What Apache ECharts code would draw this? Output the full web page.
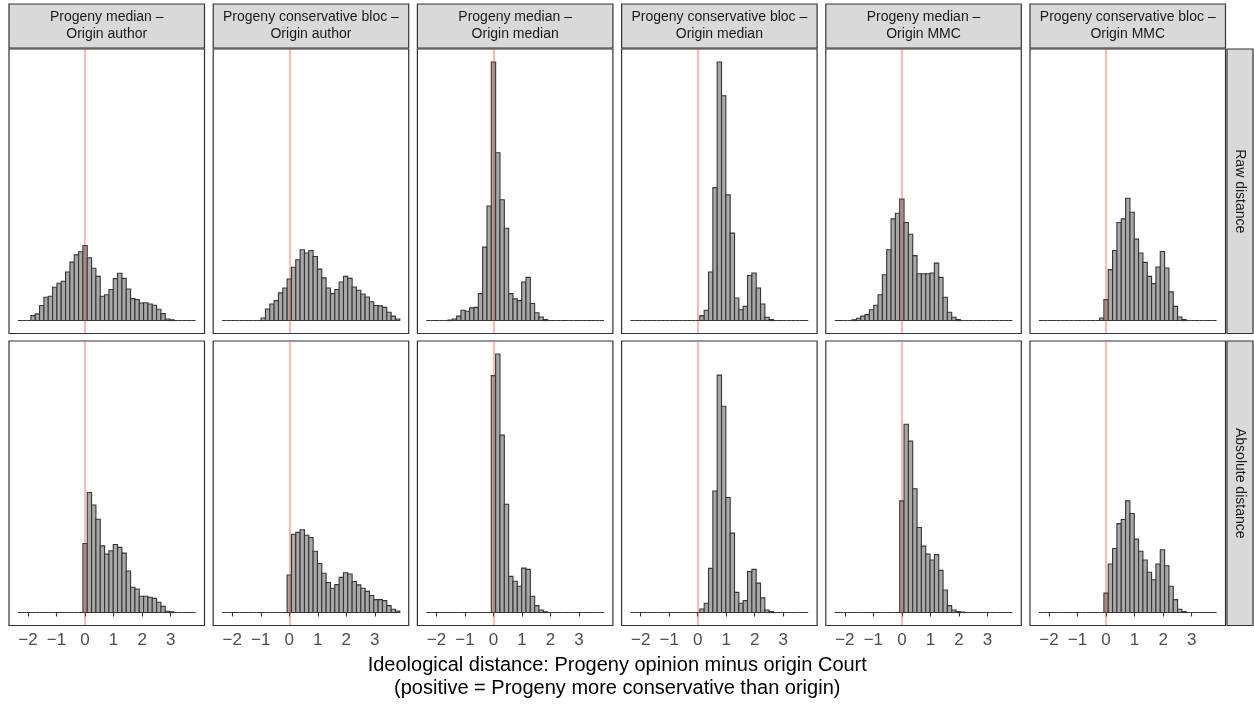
<!DOCTYPE html>
<html>
<head>
<meta charset="utf-8">
<script src="https://cdn.jsdelivr.net/npm/echarts@6/dist/echarts.min.js"></script>
<style>
  html, body { margin: 0; padding: 0; background: #fff; }
  #chart { width: 1254px; height: 711px; }
</style>
</head>
<body>
<div id="chart"></div>
<script>
// histogram bins (shared by all facets)
const binWidth = 0.152;
const binCenters = [
  -2.280, -2.128, -1.976, -1.824, -1.672, -1.520, -1.368, -1.216, -1.064, -0.912,
  -0.760, -0.608, -0.456, -0.304, -0.152, 0, 0.152, 0.304, 0.456, 0.608,
  0.760, 0.912, 1.064, 1.216, 1.368, 1.520, 1.672, 1.824, 1.976, 2.128,
  2.280, 2.432, 2.584, 2.736, 2.888, 3.040, 3.192, 3.344, 3.496, 3.648, 3.800
];
const xTicks = [-2, -1, 0, 1, 2, 3];

const columnLabels = [
  "Progeny median –\nOrigin author",
  "Progeny conservative bloc –\nOrigin author",
  "Progeny median –\nOrigin median",
  "Progeny conservative bloc –\nOrigin median",
  "Progeny median –\nOrigin MMC",
  "Progeny conservative bloc –\nOrigin MMC"
];
const rowLabels = ["Raw distance", "Absolute distance"];

// counts (relative, row max = 100)
const rawMedianAuthor = [0,0,0,1.9,2.6,5.8,9.0,9.4,12.9,14.4,15.2,18.8,22.6,25.4,26.6,29.0,24.3,20.2,17.1,9.4,10.0,12.0,16.2,18.3,16.3,12.2,8.5,8.1,6.8,6.9,6.4,5.9,4.4,2.7,0.6,0.3,0,0,0,0,0];
const rawBlocAuthor = [0,0,0,0,0,0,0,0,0,1.0,4.5,6.4,7.7,10.7,12.6,16.1,20.6,23.5,27.4,26.1,27.1,24.8,19.9,16.5,12.6,10.4,12.0,14.9,17.1,16.3,13.0,11.7,10.3,9.1,7.3,5.8,5.7,5.1,3.2,1.7,0.6];
const rawMedianMedian = [0,0,0,0,0,0.2,0.6,1.7,4.0,3.6,4.9,5.1,10.4,28.4,44.3,100,64.9,46.7,35.7,10.4,8.4,7.7,14.9,16.7,6.6,3.0,1.4,0.4,0,0,0,0,0,0,0,0,0,0,0,0,0];
const rawBlocMedian = [0,0,0,0,0,0,0,0,0,0,0,0,0,0,0,0,1.9,4.0,18.8,51.4,100,86.9,48.6,33.8,8.7,4.2,5.5,17.4,18.4,12.6,6.4,1.3,0.4,0,0,0,0,0,0,0,0];
const rawMedianMMC = [0,0,0,0,0.3,0.9,1.7,2.3,4.2,5.9,10.0,17.7,27.4,39.3,41.5,47.0,37.9,33.4,25.1,18.1,18.1,18.1,18.4,22.2,16.7,9.0,3.2,1.3,0.4,0,0,0,0,0,0,0,0,0,0,0,0];
const rawBlocMMC = [0,0,0,0,0,0,0,0,0,0,0,0,0,0,1.0,8.1,19.7,27.1,37.9,39.3,47.3,41.9,31.5,26.1,22.5,17.1,14.3,20.7,26.7,20.3,11.1,5.5,1.4,0.4,0,0,0,0,0,0,0];

const absMedianAuthor = [0,0,0,0,0,0,0,0,0,0,0,0,0,0,0,26.7,46.4,41.6,36.1,25.8,22.6,23.9,26.3,25.2,23.0,16.1,9.8,9.1,6.3,6.3,5.9,5.5,4.0,2.4,0.5,0.3,0,0,0,0,0];
const absBlocAuthor = [0,0,0,0,0,0,0,0,0,0,0,0,0,0,0,14.5,30.3,31.0,32.0,29.9,29.0,23.7,19.0,15.2,11.6,9.4,10.8,13.6,15.4,14.9,12.0,10.7,9.4,8.2,6.6,5.0,5.0,4.6,2.7,1.3,0.6];
const absMedianMedian = [0,0,0,0,0,0,0,0,0,0,0,0,0,0,0,91.6,100,68.6,41.9,14.0,12.1,10.2,17.2,16.7,6.3,2.7,1.0,0.3,0,0,0,0,0,0,0,0,0,0,0,0,0];
const absBlocMedian = [0,0,0,0,0,0,0,0,0,0,0,0,0,0,0,0,1.4,3.6,17.1,47.0,91.8,79.8,44.5,30.7,7.8,3.6,4.6,15.9,16.7,11.4,5.7,1.0,0.4,0,0,0,0,0,0,0,0];
const absMedianMMC = [0,0,0,0,0,0,0,0,0,0,0,0,0,0,0,43.2,72.8,66.3,47.9,32.9,25.7,22.6,20.3,22.4,16.3,8.7,2.7,1.0,0.4,0.2,0,0,0,0,0,0,0,0,0,0,0];
const absBlocMMC = [0,0,0,0,0,0,0,0,0,0,0,0,0,0,0,7.5,18.8,24.8,34.4,36.0,43.2,38.3,28.4,23.7,20.3,15.6,12.7,18.8,24.3,18.1,10.2,5.0,1.3,0.4,0,0,0,0,0,0,0];

const panels = [
  [rawMedianAuthor, rawBlocAuthor, rawMedianMedian, rawBlocMedian, rawMedianMMC, rawBlocMMC],
  [absMedianAuthor, absBlocAuthor, absMedianMedian, absBlocMedian, absMedianMMC, absBlocMMC]
];

// layout
const panelLeft0 = 9, panelPitch = 204.2, panelW = 195.5;
const rowTop = [49, 341], panelH = 284.5;
const stripTop = 4;
const xMin = -2.668, xMax = 4.188;
const font = '"Liberation Sans", Arial, Helvetica, sans-serif';

const chart = echarts.init(document.getElementById('chart'));

const grids = [], xAxes = [], yAxes = [], series = [], graphics = [];

panels.forEach((row, r) => {
  row.forEach((counts, c) => {
    const idx = r * 6 + c;
    const left = panelLeft0 + c * panelPitch;
    const bottomRow = r === 1;
    grids.push({
      left: left, top: rowTop[r], width: panelW, height: panelH,
      show: true, borderColor: '#333333', borderWidth: 1.2, backgroundColor: '#fff'
    });
    xAxes.push({
      type: 'value', gridIndex: idx, min: xMin, max: xMax,
      axisLine: { show: false },
      splitLine: { show: false },
      axisTick: {
        show: bottomRow, customValues: xTicks, length: 4,
        lineStyle: { color: '#333333', width: 1.1 }
      },
      axisLabel: {
        show: bottomRow, customValues: xTicks, margin: 6,
        fontSize: 17, color: '#4D4D4D', fontFamily: font,
        formatter: (v) => String(v).replace('-', '\u2212')
      }
    });
    yAxes.push({ type: 'value', gridIndex: idx, min: -5, max: 105, show: false });
    series.push({
      type: 'custom',
      xAxisIndex: idx, yAxisIndex: idx,
      data: binCenters.map((x, i) => [x, counts[i]]),
      renderItem: (params, api) => {
        const x = api.value(0), h = api.value(1);
        const p0 = api.coord([x - binWidth / 2, 0]);
        const p1 = api.coord([x + binWidth / 2, h]);
        return {
          type: 'rect',
          shape: { x: p0[0], y: p1[1], width: p1[0] - p0[0], height: p0[1] - p1[1] },
          style: { fill: '#A8A8A8', stroke: '#363636', lineWidth: 1.1 }
        };
      },
      markLine: {
        silent: true, symbol: 'none', animation: false,
        label: { show: false },
        lineStyle: { color: 'rgba(232,50,50,0.45)', width: 1.5, type: 'solid' },
        data: [{ xAxis: 0 }]
      }
    });
  });
});

// column strips
columnLabels.forEach((label, c) => {
  const left = panelLeft0 + c * panelPitch;
  graphics.push({
    type: 'rect',
    shape: { x: left, y: stripTop, width: panelW, height: rowTop[0] - stripTop - 1 },
    style: { fill: '#D9D9D9', stroke: '#333333', lineWidth: 1.2 }
  });
  graphics.push({
    type: 'text',
    x: left + panelW / 2, y: (stripTop + rowTop[0]) / 2 - 1,
    style: {
      text: label, fill: '#1A1A1A', font: '14px ' + font,
      align: 'center', verticalAlign: 'middle', lineHeight: 17
    }
  });
});

// row strips
const stripLeft = panelLeft0 + 5 * panelPitch + panelW + 1.5;
rowLabels.forEach((label, r) => {
  graphics.push({
    type: 'rect',
    shape: { x: stripLeft, y: rowTop[r], width: 1253 - stripLeft, height: panelH },
    style: { fill: '#D9D9D9', stroke: '#333333', lineWidth: 1.2 }
  });
  graphics.push({
    type: 'text',
    x: (stripLeft + 1253) / 2, y: rowTop[r] + panelH / 2,
    rotation: -Math.PI / 2,
    style: {
      text: label, fill: '#1A1A1A', font: '14px ' + font,
      align: 'center', verticalAlign: 'middle'
    }
  });
});

// x axis title
graphics.push({
  type: 'text',
  x: panelLeft0 + (5 * panelPitch + panelW) / 2, y: 677,
  style: {
    text: 'Ideological distance: Progeny opinion minus origin Court\n(positive = Progeny more conservative than origin)',
    fill: '#000000', font: '20px ' + font,
    align: 'center', verticalAlign: 'middle', lineHeight: 23
  }
});

chart.setOption({
  animation: false,
  backgroundColor: '#ffffff',
  grid: grids,
  xAxis: xAxes,
  yAxis: yAxes,
  series: series,
  graphic: graphics
});
</script>
</body>
</html>
